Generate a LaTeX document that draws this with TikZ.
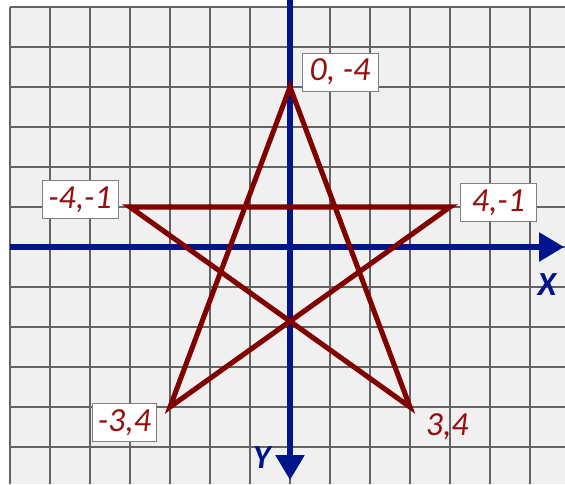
\documentclass[tikz,border=0pt]{standalone}
\usepackage{fontspec}
\setmainfont{Carlito}
\usetikzlibrary{arrows.meta}

\definecolor{starred}{RGB}{128,0,0}
\definecolor{tagred}{RGB}{150,15,15}
\definecolor{axisblue}{RGB}{0,20,140}
\definecolor{gridgray}{RGB}{100,100,100}
\definecolor{paper}{RGB}{240,240,240}

\begin{document}
\begin{tikzpicture}[
  gridline/.style={gridgray, line width=2.1pt},
  axis/.style={axisblue, line width=3.6pt, -{Triangle[length=0.62cm,width=0.7cm]}},
  edge/.style={starred, line width=3.6pt, line join=miter},
  tag/.style={fill=white, draw=gray, line width=0.4pt, text=tagred,
    font=\fontsize{24}{28}\selectfont\itshape,
    minimum width=1.9cm, minimum height=0.95cm, inner sep=1pt},
  axislabel/.style={text=axisblue, font=\fontsize{24}{28}\selectfont\bfseries\itshape}
]
\useasboundingbox (-7.25,-5.925) rectangle (6.875,6.175);

% paper and grid
\fill[paper] (-7,-5.925) rectangle (6.875,6);
\foreach \x in {-7,...,6} \draw[gridline] (\x,-5.925) -- (\x,6);
\foreach \y in {-5,...,6} \draw[gridline] (-7,\y) -- (6.875,\y);

% axes
\coordinate (XS) at (-7,0);
\coordinate (XE) at (6.85,0);
\coordinate (YS) at (0,6.175);
\coordinate (YE) at (0,-5.825);
\draw[axis] (XS) -- (XE);
\draw[axis] (YS) -- (YE);
\node[axislabel] (XL) at (6.42,-0.95) {X};
\node[axislabel] (YL) at (-0.7,-5.27) {Y};

% vertices
\coordinate (T) at (0,4);
\coordinate (R) at (4,1);
\coordinate (L) at (-4,1);
\coordinate (BL) at (-3,-4);
\coordinate (BR) at (3,-4);

% edges
\draw[edge] (L) -- (R) -- (BL) -- (T) -- (BR) -- cycle;

% labels
\node[tag] (TT) at (1.25,4.375) {0, -4};
\node[tag] (TL) at (-5.25,1.19) {-4,-1};
\node[tag] (TR) at (5.21,1.11) {4,-1};
\node[tag, minimum width=1.6cm] (TBL) at (-4.14,-4.39) {-3,4};
\node[tag, fill=none, draw=none] (TBR) at (3.93,-4.5) {3,4};

\end{tikzpicture}
\end{document}
